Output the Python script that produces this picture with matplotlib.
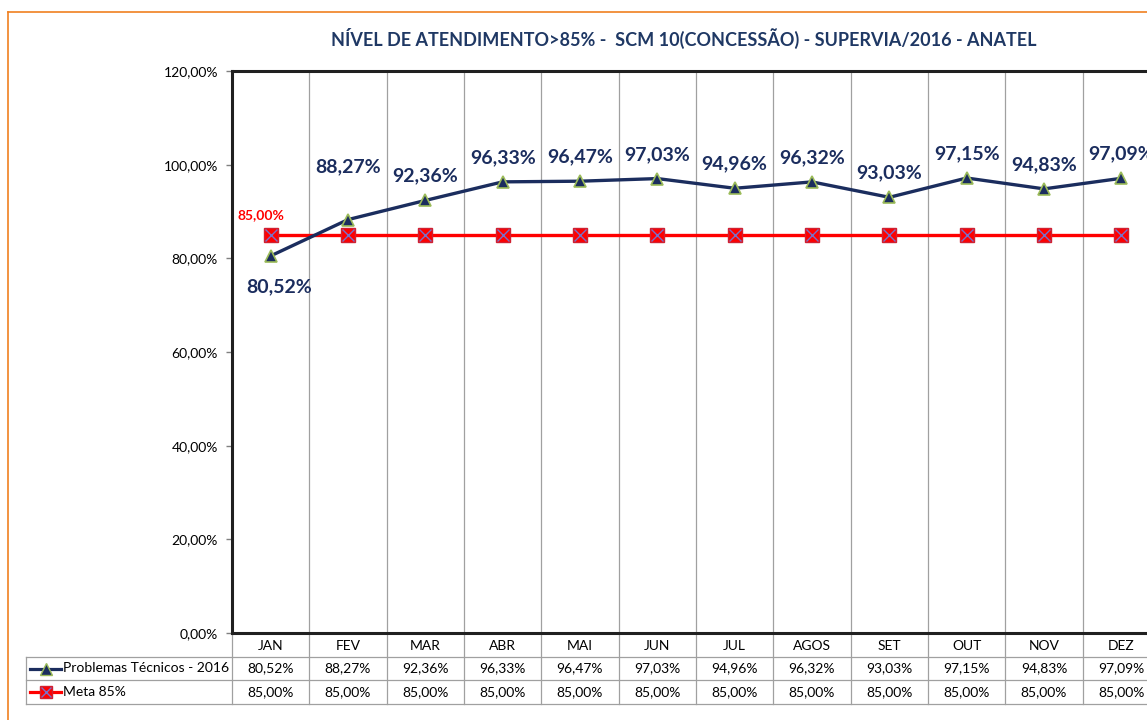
import matplotlib
matplotlib.use("Agg")
from matplotlib import pyplot as plt
from matplotlib.lines import Line2D
import matplotlib.transforms as mtransforms


months = ["JAN", "FEV", "MAR", "ABR", "MAI", "JUN", "JUL", "AGOS", "SET", "OUT", "NOV", "DEZ"]
problemas = [80.52, 88.27, 92.36, 96.33, 96.47, 97.03, 94.96, 96.32, 93.03, 97.15, 94.83, 97.09]
meta = [85.00] * 12
yTicks = [0, 20, 40, 60, 80, 100, 120]
serieNames = ["Problemas Técnicos - 2016", "Meta 85%"]
title = "NÍVEL DE ATENDIMENTO>85% -  SCM 10(CONCESSÃO) - SUPERVIA/2016 - ANATEL"

navy = "#1B2D5E"
red = "#FF0000"
gridGray = "#A0A0A0"

def pct(v):
    return ("%.2f%%" % v).replace(".", ",")

plt.rcParams["font.family"] = ["Lato", "DejaVu Sans"]

fig = plt.figure(figsize=(11.47, 7.2), dpi=100)
W, H = 1147.0, 720.0
ax = fig.add_axes([232 / W, 1 - 633 / H, 928 / W, 562 / H])

x = list(range(len(months)))

# vertical lines between the months
for i in range(len(months) + 1):
    ax.axvline(i - 0.5, color=gridGray, lw=0.9, zorder=1)

ax.plot(x, meta, color=red, lw=2.4, zorder=3)
ax.plot(x, meta, ls="none", marker="s", ms=10, mfc=red, mec="#D02030", zorder=4)
ax.plot(x, meta, ls="none", marker="x", ms=8, mew=1.0, color="#7A70C8", zorder=5)
ax.plot(x, problemas, color=navy, lw=2.4, zorder=6, marker="^", ms=9,
        mfc=navy, mec="#9BBB59", mew=1.2)

ax.set_xlim(-0.5, len(months) - 0.5)
ax.set_ylim(0, 120)
ax.set_yticks(yTicks)
ax.set_yticklabels([pct(v) for v in yTicks], fontsize=10)
ax.set_xticks([])
ax.tick_params(axis="y", length=4, width=1, color="#808080", pad=6)
for side in ["left", "top", "bottom"]:
    ax.spines[side].set_linewidth(2.2)
    ax.spines[side].set_color("#202020")
ax.spines["right"].set_visible(False)

# data labels
offsets = {0: (6, -22), 1: (0, 38)}
for i, v in enumerate(problemas):
    dx, dy = offsets.get(i, (0, 17.5))
    ax.annotate(pct(v), (i, v), xytext=(dx, dy), textcoords="offset points",
                ha="center", va="center", fontsize=14, fontweight="bold", color=navy,
                zorder=7)
ax.annotate(pct(meta[0]), (0, meta[0]), xytext=(-7, 14), textcoords="offset points",
            ha="center", va="center", fontsize=10, fontweight="bold", color=red)

fig.text(684 / W, 1 - 38 / H, title, ha="center", va="center", fontsize=13,
         fontweight="bold", color="#1F3864")

# data table under the plot
trans = mtransforms.blended_transform_factory(ax.transData, ax.transAxes)
px = 1.0 / 562
rowY = [-(657 - 633) * px, -(680 - 633) * px, -(704 - 633) * px]
for i in range(len(months) + 1):
    ax.plot([i - 0.5, i - 0.5], [0, rowY[2]], transform=trans, color=gridGray,
            lw=0.9, clip_on=False)
leftX = (26 - 232) / 928.0
for yy in rowY:
    ax.plot([leftX, 1.0], [yy, yy], transform=ax.transAxes, color=gridGray,
            lw=0.9, clip_on=False)
ax.plot([leftX, leftX], [rowY[0], rowY[2]], transform=ax.transAxes, color=gridGray,
        lw=0.9, clip_on=False)

headY = -(646 - 633) * px
row1Y = (rowY[0] + rowY[1]) / 2
row2Y = (rowY[1] + rowY[2]) / 2
for i, m in enumerate(months):
    ax.text(i, headY, m, transform=trans, ha="center", va="center", fontsize=10)
    ax.text(i, row1Y, pct(problemas[i]), transform=trans, ha="center", va="center",
            fontsize=10)
    ax.text(i, row2Y, pct(meta[i]), transform=trans, ha="center", va="center",
            fontsize=10)

# legend keys inside the table
kx0, kx1 = (30 - 232) / 928.0, (61 - 232) / 928.0
km = (kx0 + kx1) / 2
ax.add_line(Line2D([kx0, kx1], [row1Y, row1Y], transform=ax.transAxes, color=navy,
                   lw=2.3, clip_on=False))
ax.add_line(Line2D([km], [row1Y], transform=ax.transAxes, marker="^", ms=8,
                   mfc=navy, mec="#9BBB59", clip_on=False))
ax.add_line(Line2D([kx0, kx1], [row2Y, row2Y], transform=ax.transAxes, color=red,
                   lw=2.3, clip_on=False))
ax.add_line(Line2D([km], [row2Y], transform=ax.transAxes, marker="s", ms=9,
                   mfc=red, mec="#D02030", clip_on=False))
ax.add_line(Line2D([km], [row2Y], transform=ax.transAxes, marker="x", ms=7,
                   color="#7A70C8", clip_on=False))
textX = (63 - 232) / 928.0
ax.text(textX, row1Y, serieNames[0], transform=ax.transAxes, ha="left", va="center",
        fontsize=10)
ax.text(textX, row2Y, serieNames[1], transform=ax.transAxes, ha="left", va="center",
        fontsize=10)

# orange chart frame
fig.add_artist(Line2D([8 / W, 8 / W], [0, 1 - 12 / H], color="#F08020", lw=1.2))
fig.add_artist(Line2D([8 / W, 1], [1 - 12 / H, 1 - 12 / H], color="#F08020", lw=1.2))

fig.savefig("out.png", dpi=100)
